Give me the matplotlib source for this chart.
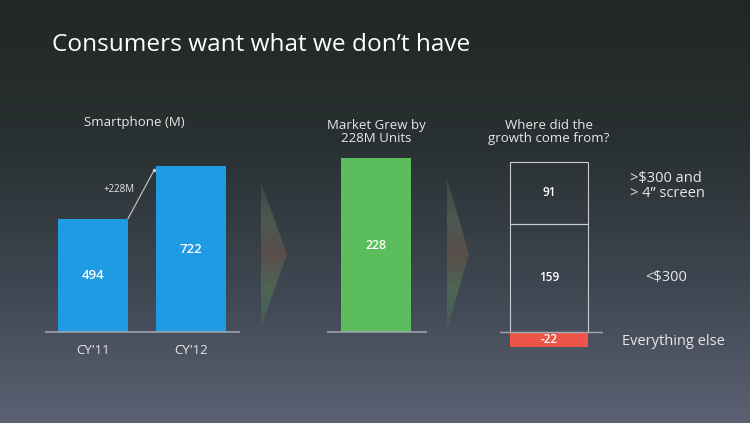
import numpy as np
import matplotlib
matplotlib.use('Agg')
import matplotlib.pyplot as plt
import matplotlib.patches as mpatches
from matplotlib.colors import LinearSegmentedColormap

plt.rcParams['font.family'] = ['Open Sans', 'DejaVu Sans']

# data
years = ["CY'11", "CY'12"]
units = [494, 722]
growth = 228
seg_labels = ['<$300', '>$300 and\n> 4\u201d screen']
seg_values = [159, 91]
other_label = 'Everything else'
other_value = -22

W, H = 750, 423
fig = plt.figure(figsize=(W / 100, H / 100), dpi=100)

# background gradient
bg = fig.add_axes([0, 0, 1, 1])
bg_cmap = LinearSegmentedColormap.from_list(
    'bg', ['#212725', '#293031', '#3d4550', '#5c6173'])
grad = np.linspace(0, 1, 256).reshape(-1, 1)
bg.imshow(grad, aspect='auto', cmap=bg_cmap, extent=[0, W, H, 0])
bg.axis('off')

txt = '#e6e8e8'
bg.text(52, 45, 'Consumers want what we don\u2019t have', color='white',
        fontsize=17.6, va='center', ha='left')

# faint chevrons between panels
chev_cmap = LinearSegmentedColormap.from_list(
    'chev', ['#3c4845', '#4f5d54', '#5e4f4b', '#4f6a57', '#485c56'])
for x0, y0, y1, tip in [(261, 182, 327, 287), (447, 178, 330, 469)]:
    poly = mpatches.Polygon([(x0, y0), (tip, (y0 + y1) / 2), (x0, y1)],
                            closed=True, facecolor='none', edgecolor='none')
    bg.add_patch(poly)
    im = bg.imshow(np.linspace(0, 1, 64).reshape(-1, 1), cmap=chev_cmap,
                   aspect='auto', extent=[x0, tip, y1, y0], alpha=0.9)
    im.set_clip_path(poly)
bg.set_xlim(0, W)
bg.set_ylim(H, 0)


def panel(x0, x1, center, unit_px, base_y, scale, y_top=90, y_bot=370):
    ax = fig.add_axes([x0 / W, 1 - y_bot / H, (x1 - x0) / W, (y_bot - y_top) / H])
    ax.set_xlim((x0 - center) / unit_px, (x1 - center) / unit_px)
    ax.set_ylim(-(y_bot - base_y) / scale, (base_y - y_top) / scale)
    ax.axis('off')
    ax.patch.set_alpha(0)
    return ax


# left panel: smartphone units
s1 = 0.2295
ax1 = panel(45, 240, 93, 98, 332, s1)
x = np.arange(len(years))
ax1.bar(x, units, width=70 / 98, color='#1e9be2')
ax1.axhline(0, color='#9da3ab', lw=1.2)
for xi, v, lab in zip(x, units, years):
    ax1.text(xi, v / 2, str(v), color='white', fontsize=9.5, fontweight='semibold',
             ha='center', va='center')
    ax1.text(xi, -18 / s1, lab, color=txt, fontsize=9.5, ha='center', va='center')
ax1.text(0.42, 210 / s1, 'Smartphone (M)', color=txt, fontsize=9.5,
         ha='center', va='center')
# growth connector
hw = 35 / 98
ax1.plot([hw, 1 - hw - 0.02], [units[0], units[1] - 4 / s1], color='#c8ccd0', lw=0.8)
ax1.plot([1 - hw - 0.02], [units[1] - 4 / s1], 'o', color='#c8ccd0', ms=1.5)
ax1.text((135 - 93) / 98, (332 - 189) / s1, '+%dM' % growth, color=txt,
         fontsize=7, ha='right', va='center')

# middle panel: market growth
s2 = 174 / 228
ax2 = panel(327, 427, 376, 100, 332, s2)
ax2.bar([0], [growth], width=0.70, color='#5cbd5c')
ax2.axhline(0, color='#9da3ab', lw=1.2)
ax2.text(0, growth / 2, str(growth), color='white', fontsize=9, fontweight='semibold',
         ha='center', va='center')
ax2.text(0, (332 - 132) / s2, 'Market Grew by\n%dM Units' % growth, color=txt,
         fontsize=9.5, ha='center', va='center', linespacing=1.05)

# right panel: where growth came from
s3 = 0.68
ax3 = panel(500, 603, 549, 100, 332, s3)
bottom = 0
for v in seg_values:
    ax3.bar([0], [v], bottom=bottom, width=0.78, facecolor='none',
            edgecolor='#c9ccd0', lw=0.8)
    ax3.text(0, bottom + v / 2, str(v), color='white', fontsize=8.5,
             fontweight='semibold', ha='center', va='center')
    bottom += v
ax3.bar([0], [other_value], width=0.78, color='#ee5549')
ax3.axhline(0, color='#a4a9b0', lw=1.0)
ax3.text(0, other_value / 2, str(other_value), color='white', fontsize=8.5,
         fontweight='semibold', ha='center', va='center')
ax3.text(0, (332 - 132) / s3, 'Where did the\ngrowth come from?', color=txt,
         fontsize=9.5, ha='center', va='center', linespacing=1.05)

# segment descriptions to the right
ax3.text((630 - 549) / 100, (332 - 186) / s3, seg_labels[1], color=txt,
         fontsize=10.5, ha='left', va='center', linespacing=0.95, clip_on=False)
ax3.text((645 - 549) / 100, seg_values[0] / 2, seg_labels[0], color=txt,
         fontsize=10.5, ha='left', va='center', clip_on=False)
ax3.text((622 - 549) / 100, -9 / s3, other_label, color=txt, fontsize=10.5,
         ha='left', va='center', clip_on=False)

fig.savefig('out.png', dpi=100)
